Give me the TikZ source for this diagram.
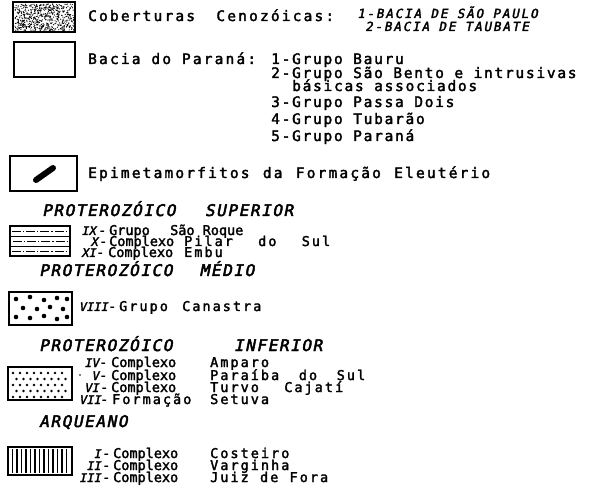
\documentclass[tikz,border=0pt]{standalone}
\usepackage{fontspec}
\setmainfont{DejaVu Sans Mono}[LetterSpace=15, FakeBold=2.2]
\newfontfamily\lfont{DejaVu Sans Mono}[LetterSpace=12, FakeBold=2.2]
\newfontfamily\rfont{DejaVu Sans Mono}[FakeBold=2.2]
\newfontfamily\cfont{DejaVu Sans Mono}[LetterSpace=15, FakeBold=2.2]
\newfontfamily\hdfont{DejaVu Sans Mono}[FakeSlant=0.2, FakeBold=3, LetterSpace=10]
\newfontfamily\smfont{DejaVu Sans Mono}[FakeSlant=0.2, FakeBold=2.5, LetterSpace=15]
\newfontfamily\numfont{DejaVu Sans Mono}[FakeSlant=0.2, FakeBold=2.5]
\newcommand\fitw[2]{\makebox[#1][s]{#2}}
\tikzset{
  txt/.style={inner sep=0pt, anchor=base west, font=\fontsize{14.5}{14.5}\selectfont},
  ltxt/.style={inner sep=0pt, anchor=base west, font=\lfont\fontsize{14.5}{14.5}\selectfont},
  rtxt/.style={inner sep=0pt, anchor=base west, font=\rfont\fontsize{13.5}{13.5}\selectfont},
  ctxt/.style={inner sep=0pt, anchor=base west, font=\cfont\fontsize{13.5}{13.5}\selectfont},
  hd/.style={inner sep=0pt, anchor=base west, font=\hdfont\fontsize{16}{16}\selectfont},
  sm/.style={inner sep=0pt, anchor=base west, font=\smfont\fontsize{12.5}{12.5}\selectfont},
  num/.style={inner sep=0pt, anchor=base east, font=\numfont\fontsize{12}{12}\selectfont},
  dsh/.style={inner sep=0pt, anchor=base west, font=\rfont\fontsize{13.5}{13.5}\selectfont},
  legbox/.style={draw, line width=1.7pt},
  dashdot/.style={line width=0.9pt, dash pattern=on 9pt off 2pt on 1.2pt off 2pt},
}
\begin{document}
\begin{tikzpicture}[x=1pt,y=-1pt]
\useasboundingbox[fill=white] (0,0) rectangle (597,494);

% ---- Box 1: Cenozoic stipple
\pgfmathsetseed{7}
\foreach \i in {1,...,600}{
  \pgfmathsetmacro\px{15+59*rnd}
  \pgfmathsetmacro\py{4+27*rnd}
  \fill (\px,\py) circle (0.62pt);
}
\draw[legbox] (13,2) rectangle (75,32);
\node[txt] (cob) at (88,21) {\fitw{246pt}{Coberturas Cenozóicas:}};
\node[sm] (bsp) at (357,18) {1-BACIA DE SÃO PAULO};
\node[sm] (btb) at (365,31) {2-BACIA DE TAUBATE};

% ---- Box 2: Bacia do Parana
\draw[legbox] (14,42) rectangle (75,77);
\node[txt] (bp) at (88,64) {Bacia do Paraná:};
\node[ltxt] (g1) at (271,64) {1-Grupo Bauru};
\node[ltxt] (g2) at (271,78) {2-Grupo São Bento e intrusivas};
\node[ltxt] (g2b) at (292,91) {básicas associados};
\node[ltxt] (g3) at (271,107) {3-Grupo Passa Dois};
\node[ltxt] (g4) at (271,124) {4-Grupo Tubarão};
\node[ltxt] (g5) at (271,141) {5-Grupo Paraná};

% ---- Box 3: Epimetamorfitos
\draw[legbox] (10,156) rectangle (77,191);
\draw[line width=6pt, line cap=round] (36,180) -- (53,168);
\node[txt] (epi) at (88,178) {\fitw{402pt}{Epimetamorfitos da Formação Eleutério}};

% ---- Proterozoico superior
\node[hd] (psup) at (42,216) {\fitw{251pt}{PROTEROZÓICO SUPERIOR}};
\draw[line width=1pt] (10,236.5) -- (70,236.5);
\draw[line width=1pt] (10,246.5) -- (70,246.5);
\draw[dashdot] (12,231.5) -- (69,231.5);
\draw[dashdot] (13,241.5) -- (69,241.5);
\draw[dashdot] (12,251.5) -- (69,251.5);
\draw[legbox] (10,226) rectangle (70,256);
\node[num] (n9) at (96,235) {IX};
\node[dsh] (d9) at (98,235) {-};
\node[rtxt] (t9) at (109,235) {Grupo};
\node[rtxt] (u9) at (170,235) {São Roque};
\node[num] (n10) at (98,246) {X};
\node[dsh] (d10) at (99,246) {-};
\node[rtxt] (t10) at (109,246) {Complexo};
\node[ctxt] (u10) at (184,246) {\fitw{146pt}{Pilar do Sul}};
\node[num] (n11) at (96,257) {XI};
\node[dsh] (d11) at (96,257) {-};
\node[rtxt] (t11) at (108,257) {Complexo};
\node[ctxt] (u11) at (184,257) {Embu};

% ---- Proterozoico medio
\node[hd] (pmed) at (39,276) {\fitw{215pt}{PROTEROZÓICO MÉDIO}};
\foreach \p in {(16,299),(30,297),(44,300),(57,298),(67,299),
                (23,308),(37,309),(50,307),(63,309),
                (16,317),(30,318),(44,316),(57,319),(67,317)}{
  \fill \p circle (2.3pt);
}
\draw[legbox] (9,292) rectangle (72,325);
\node[num] (n8) at (108,311) {VIII};
\node[dsh] (d8) at (108,311) {-};
\node[ctxt] (t8) at (119,311) {Grupo};
\node[ctxt] (u8) at (182,311) {Canastra};

% ---- Proterozoico inferior
\node[hd] (pinf) at (39,351) {\fitw{283pt}{PROTEROZÓICO INFERIOR}};
\foreach \r in {0,...,4}{
  \foreach \c in {0,...,8}{
    \pgfmathsetmacro\px{13+7*\c+mod(\r,2)*3.5}
    \pgfmathsetmacro\py{373+6*\r}
    \pgfmathparse{\px<69 ? 1 : 0}
    \ifnum\pgfmathresult=1 \fill (\px,\py) circle (1.3pt); \fi
  }
}
\draw[legbox] (8,367) rectangle (72,400);
\fill (80,375) circle (0.8pt);
\node[num] (n4) at (99,367) {IV};
\node[dsh] (d4) at (99,367) {-};
\node[rtxt] (c4) at (111,367) {Complexo};
\node[ctxt] (w4) at (210,367) {Amparo};
\node[num] (n5) at (99,380) {V};
\node[dsh] (d5) at (99,380) {-};
\node[rtxt] (c5) at (111,380) {Complexo};
\node[ctxt] (w5) at (210,380) {\fitw{155pt}{Paraíba do Sul}};
\node[num] (n6) at (99,392) {VI};
\node[dsh] (d6) at (100,392) {-};
\node[rtxt] (c6) at (111,392) {Complexo};
\node[ctxt] (w6) at (210,392) {\fitw{133pt}{Turvo Cajatí}};
\node[num] (n7) at (101,404) {VII};
\node[dsh] (d7) at (100,404) {-};
\node[ctxt] (c7) at (112,404) {Formação};
\node[ctxt] (w7) at (210,404) {Setuva};

% ---- Arqueano
\node[hd] (arq) at (39,427) {ARQUEANO};
\foreach \x in {12.5,17,...,70}{
  \draw[line width=1.8pt] (\x,449) -- (\x,473);
}
\draw[legbox] (8,447) rectangle (72,475);
\node[num] (n1) at (101,458) {I};
\node[dsh] (d1) at (102,458) {-};
\node[rtxt] (c1) at (113,458) {Complexo};
\node[ctxt] (w1) at (210,458) {Costeiro};
\node[num] (n2) at (101,470) {II};
\node[dsh] (d2) at (102,470) {-};
\node[rtxt] (c2) at (113,470) {Complexo};
\node[ctxt] (w2) at (210,470) {Varginha};
\node[num] (n3) at (101,482) {III};
\node[dsh] (d3) at (102,482) {-};
\node[rtxt] (c3) at (113,482) {Complexo};
\node[ctxt] (w3) at (210,482) {\fitw{118pt}{Juiz de Fora}};
\end{tikzpicture}
\end{document}
